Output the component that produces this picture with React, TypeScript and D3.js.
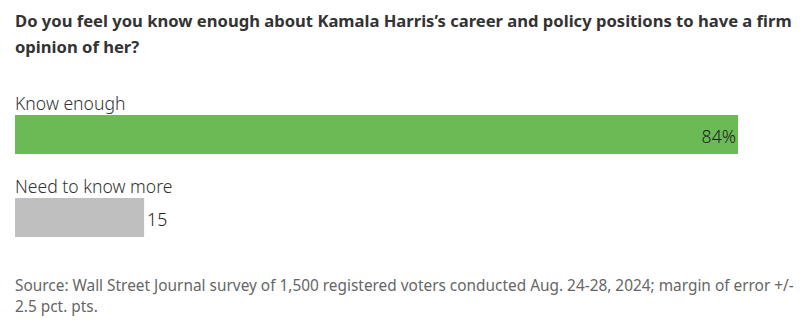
import React from "react";
import * as d3 from "d3";

const titleLines = [
  "Do you feel you know enough about Kamala Harris’s career and policy positions to have a firm",
  "opinion of her?",
];
const categories = ["Know enough", "Need to know more"];
const values = [84, 15];
const valueLabels = ["84%", "15"];
const sourceLines = [
  "Source: Wall Street Journal survey of 1,500 registered voters conducted Aug. 24-28, 2024; margin of error +/-",
  "2.5 pct. pts.",
];
const colors = ["#6abb55", "#bfbfbf"];

const W = 802;
const H = 330;

export default function App() {
  const x = d3.scaleLinear().domain([0, d3.max(values) as number]).range([15, 738]);
  const band = d3.scaleBand<string>().domain(categories).range([97, 263]).paddingInner(0);
  const barH = 39;
  return (
    <svg width={W} height={H} style={{ position: "absolute", left: 0, top: 0, background: "#fff" }}>
      {titleLines.map((t, i) => (
        <text key={i} x={15} y={27 + i * 26} fontFamily="'Noto Sans', 'Open Sans', sans-serif" fontWeight={700} fontSize={16.6} fill="#333">
          {t}
        </text>
      ))}
      {categories.map((c, i) => {
        const y0 = band(c) as number;
        const barY = y0 + 18;
        const xe = x(values[i]);
        const inside = i === 0;
        return (
          <g key={c}>
            <text x={15} y={y0 + 13} fontFamily="'Noto Sans', sans-serif" fontWeight={300} fontSize={17.6} fill="#333">
              {c}
            </text>
            <rect x={x(0)} y={barY} width={xe - x(0)} height={barH} fill={colors[i]} />
            <text
              x={inside ? xe - 2 : xe + 3}
              y={barY + 28}
              textAnchor={inside ? "end" : "start"}
              fontFamily="'Noto Sans', sans-serif"
              fontWeight={300}
              fontSize={17.6}
              fill="#222"
            >
              {valueLabels[i]}
            </text>
          </g>
        );
      })}
      {sourceLines.map((t, i) => (
        <text key={i} x={15} y={291 + i * 21} fontFamily="'Noto Sans', sans-serif" fontSize={15.4} fill="#666">
          {t}
        </text>
      ))}
    </svg>
  );
}
